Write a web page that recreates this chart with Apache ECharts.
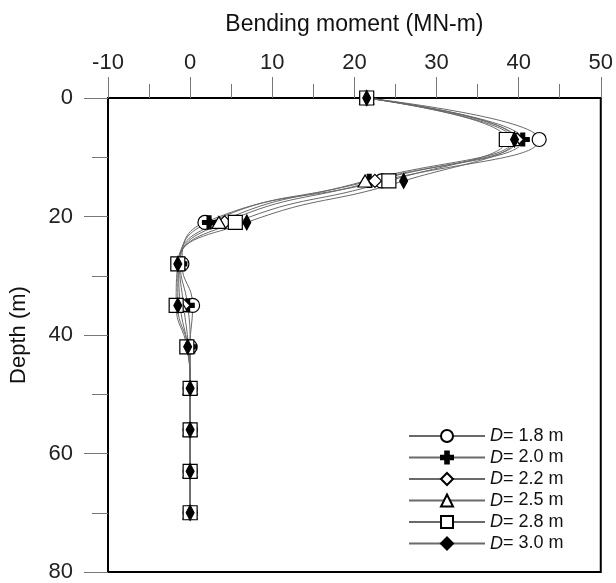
<!DOCTYPE html>
<html>
<head>
<meta charset="utf-8">
<script src="https://cdn.jsdelivr.net/npm/echarts@6/dist/echarts.min.js"></script>
<style>html,body{margin:0;padding:0;background:#fff}#c{width:616px;height:583px}</style>
</head>
<body>
<div id="c"></div>
<script>
var depths = [0, 7, 14, 21, 28, 35, 42, 49, 56, 63, 70];
var seriesNames = ['1.8', '2.0', '2.2', '2.5', '2.8', '3.0'];
var m18 = [21.5, 42.5, 23.3, 1.8, -1.0, 0.3, 0.0, 0.0, 0.0, 0.0, 0.0];
var m20 = [21.5, 40.5, 21.8, 2.3, -1.2, -0.3, 0.0, 0.0, 0.0, 0.0, 0.0];
var m22 = [21.5, 39.8, 22.5, 4.2, -1.3, -0.8, -0.2, 0.0, 0.0, 0.0, 0.0];
var m25 = [21.5, 39.3, 21.3, 3.5, -1.4, -1.2, -0.3, 0.0, 0.0, 0.0, 0.0];
var m28 = [21.5, 38.5, 24.2, 5.5, -1.5, -1.7, -0.4, 0.0, 0.0, 0.0, 0.0];
var m30 = [21.5, 39.5, 26.0, 6.9, -1.5, -1.5, -0.3, 0.0, 0.0, 0.0, 0.0];
var xTicks = [-10, 0, 10, 20, 30, 40, 50];
var yTicks = [0, 20, 40, 60, 80];

var values = [m18, m20, m22, m25, m28, m30];
var symbols = [
  {symbol: 'circle', size: 14, fill: '#fff'},
  {symbol: 'path://M3.5,0H6.5V3.5H10V6.5H6.5V10H3.5V6.5H0V3.5H3.5Z', size: 13, fill: '#000'},
  {symbol: 'diamond', size: [13, 13], fill: '#fff'},
  {symbol: 'triangle', size: [14, 12], fill: '#fff'},
  {symbol: 'rect', size: 14, fill: '#fff'},
  {symbol: 'diamond', size: [8, 15], fill: '#000'}
];

var series = seriesNames.map(function (n, i) {
  return {
    name: n,
    type: 'line',
    smooth: 0.5,
    data: values[i].map(function (v, j) { return [v, depths[j]]; }),
    symbol: symbols[i].symbol,
    symbolSize: symbols[i].size,
    showAllSymbol: true,
    lineStyle: {color: '#6a6a6a', width: 1},
    itemStyle: {color: symbols[i].fill, borderColor: '#000', borderWidth: 1.2},
    emphasis: {disabled: true},
    z: 2
  };
});

var chart = echarts.init(document.getElementById('c'), null, {renderer: 'canvas'});
chart.setOption({
  animation: false,
  grid: {left: 108, right: 11, top: 98, bottom: 10, show: true, borderColor: '#000', borderWidth: 2},
  xAxis: {
    type: 'value', position: 'top', min: xTicks[0], max: xTicks[xTicks.length - 1], interval: 10,
    name: 'Bending moment (MN-m)', nameLocation: 'middle', nameGap: 62,
    nameTextStyle: {fontFamily: 'Liberation Sans', fontSize: 23, color: '#111'},
    axisLine: {show: true, onZero: false, lineStyle: {color: '#000', width: 2}},
    axisTick: {show: true, length: 21, lineStyle: {color: '#777', width: 1}},
    minorTick: {show: true, splitNumber: 2, length: 14, lineStyle: {color: '#777', width: 1}},
    axisLabel: {margin: 24, fontFamily: 'Liberation Sans', fontSize: 22, color: '#222'},
    splitLine: {show: false}
  },
  yAxis: {
    type: 'value', inverse: true, min: yTicks[0], max: yTicks[yTicks.length - 1], interval: 20,
    name: 'Depth (m)', nameLocation: 'middle', nameGap: 78,
    nameTextStyle: {fontFamily: 'Liberation Sans', fontSize: 22, color: '#111'},
    axisLine: {show: true, onZero: false, lineStyle: {color: '#000', width: 2}},
    axisTick: {show: true, length: 24, lineStyle: {color: '#777', width: 1}},
    minorTick: {show: true, splitNumber: 2, length: 16, lineStyle: {color: '#777', width: 1}},
    axisLabel: {margin: 35, fontFamily: 'Liberation Sans', fontSize: 22, color: '#222'},
    splitLine: {show: false}
  },
  legend: {
    orient: 'vertical', left: 403, top: 422,
    itemWidth: 76, itemHeight: 15, itemGap: 3.5,
    data: seriesNames,
    formatter: function (n) { return '{i|D}= ' + n + ' m'; },
    textStyle: {fontFamily: 'Liberation Sans', fontSize: 18, color: '#111',
      rich: {i: {fontStyle: 'italic', fontFamily: 'Liberation Sans', fontSize: 18, color: '#111'}}},
    selectedMode: false
  },
  series: series
});
</script>
</body>
</html>
